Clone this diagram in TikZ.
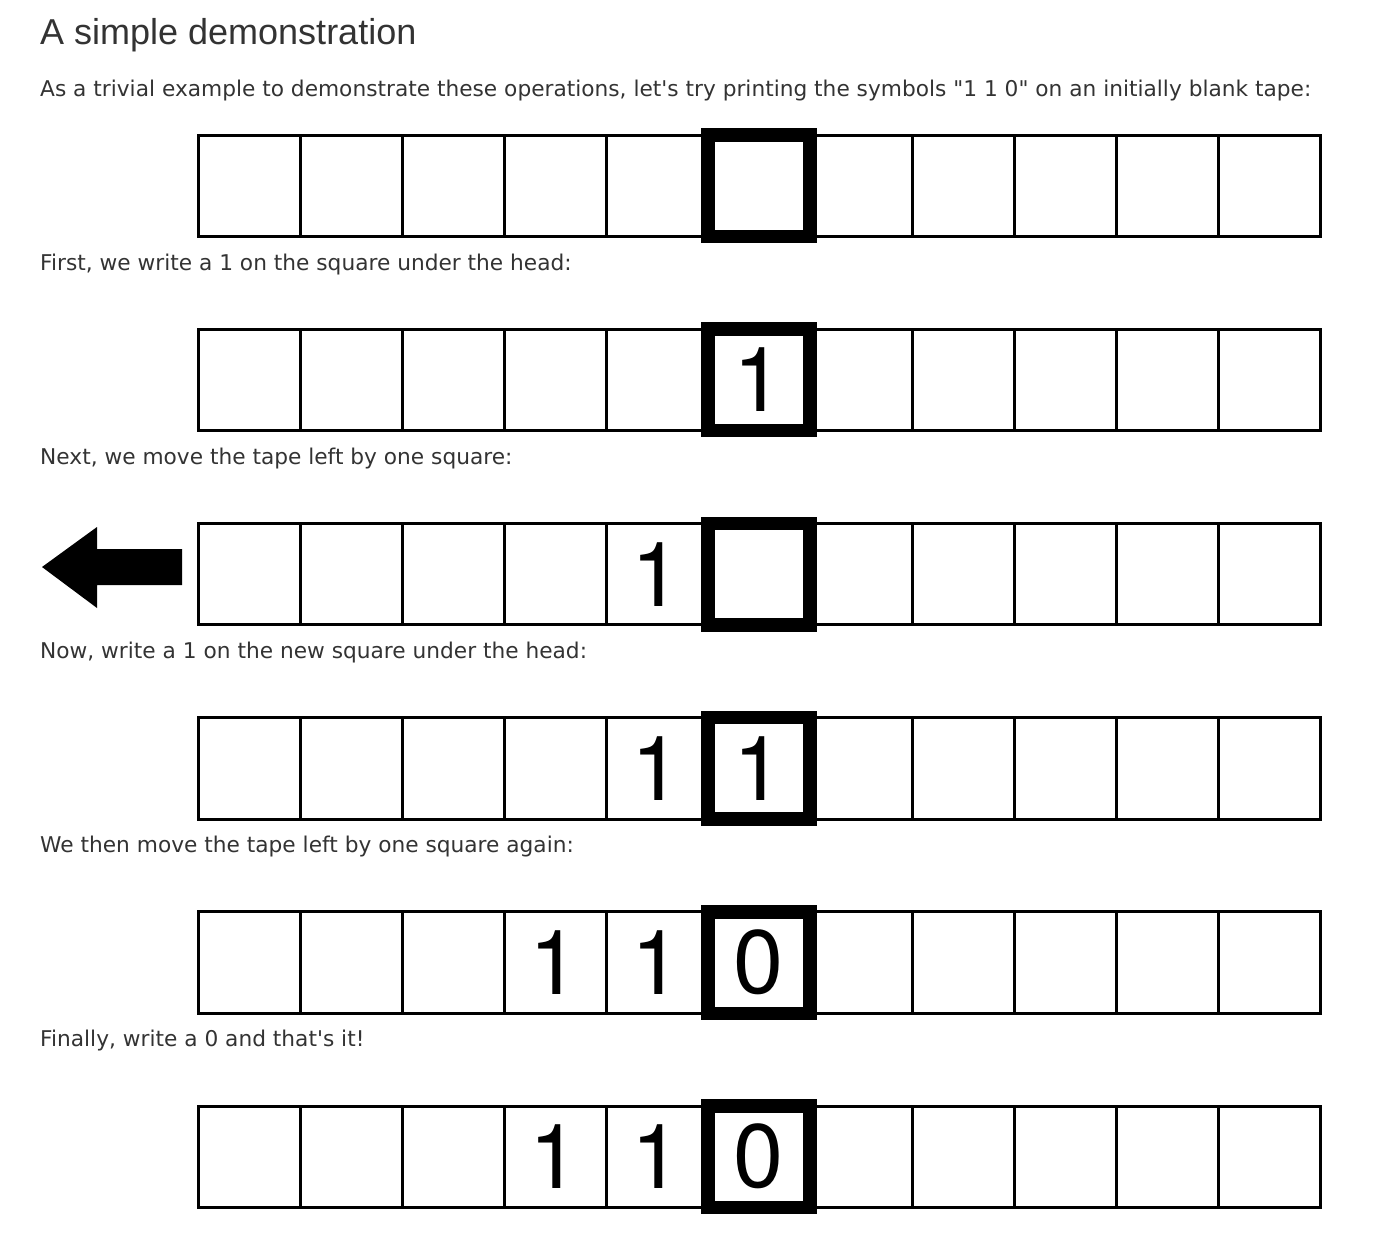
\documentclass[tikz,border=0pt]{standalone}
\usepackage{fontspec}
\setmainfont{Liberation Sans}
\newfontfamily\bodyfont{DejaVu Sans}
\newfontfamily\titlefont{Liberation Sans}
\newfontfamily\digitfont{TeX Gyre Heros}
\definecolor{txt}{HTML}{333333}
\tikzset{
 cell/.style={draw=black, line width=3pt, minimum width=102pt, minimum height=101.5pt, inner sep=0pt},
 headcell/.style={cell, line width=13.5pt},
 bodytext/.style={anchor=base west, inner sep=0pt, text=txt, font=\bodyfont\fontsize{21.7}{26}\selectfont},
 titletext/.style={anchor=base west, inner sep=0pt, text=txt, font=\titlefont\fontsize{36}{40}\selectfont},
}
\newcommand\dg[1]{{\digitfont\fontsize{90}{90}\selectfont #1}}
\newcommand\drawtape[5]{%
 \foreach \i in {0,1,2,6,7,8,9,10}{\node[cell] (#1c\i) at ({249+102*\i},{#2+50.75}) {};}
 \node[cell] (#1c3) at ({249+102*3},{#2+50.75}) {\dg{#3}};
 \node[cell] (#1c4) at ({249+102*4},{#2+50.75}) {\dg{#4}};
 \node[headcell] (#1c5) at ({249+102*5},{#2+50.75}) {\dg{#5}};
}
\begin{document}
\begin{tikzpicture}[x=1pt,y=-1pt]
\useasboundingbox (0,0) rectangle (1380,1242);
\node[titletext] (title) at (40,44) {A simple demonstration};
\node[bodytext] (p1) at (40,96) {As a trivial example to demonstrate these operations, let's try printing the symbols "1 1 0" on an initially blank tape:};
\node[bodytext] (p2) at (40,270) {First, we write a 1 on the square under the head:};
\node[bodytext] (p3) at (40,464) {Next, we move the tape left by one square:};
\node[bodytext] (p4) at (40,658) {Now, write a 1 on the new square under the head:};
\node[bodytext] (p5) at (40,852) {We then move the tape left by one square again:};
\node[bodytext] (p6) at (40,1046) {Finally, write a 0 and that's it!};
\drawtape{ta}{135}{}{}{}
\drawtape{tb}{329.2}{}{}{1}
\drawtape{tc}{523.4}{}{1}{}
\drawtape{td}{717.6}{}{1}{1}
\drawtape{te}{911.8}{1}{1}{0}
\drawtape{tf}{1106}{1}{1}{0}
\fill[black] (42,567) -- (97,527) -- (97,549) -- (182,549) -- (182,585) -- (97,585) -- (97,608) -- cycle;
\end{tikzpicture}
\end{document}
